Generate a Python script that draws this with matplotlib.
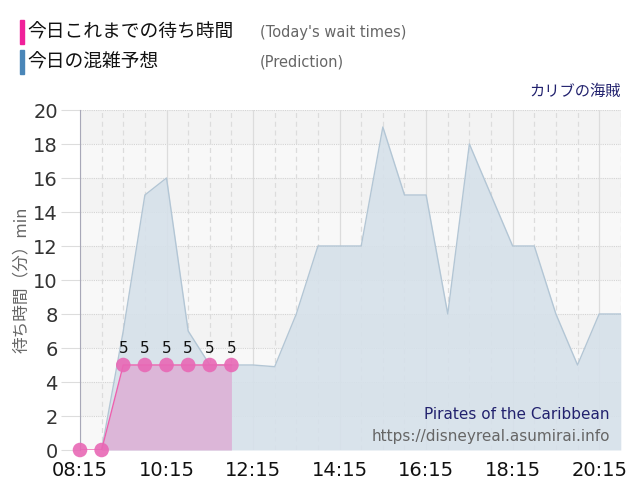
import numpy as np
import matplotlib
matplotlib.use('Agg')
import matplotlib.pyplot as plt

plt.rcParams['font.family'] = ['DejaVu Sans', 'Noto Sans CJK JP']

# prediction (30 min steps)
pred_times = ['08:45', '09:15', '09:45', '10:15', '10:45', '11:15', '11:45', '12:15',
              '12:45', '13:15', '13:45', '14:15', '14:45', '15:15', '15:45', '16:15',
              '16:45', '17:15', '17:45', '18:15', '18:45', '19:15', '19:45', '20:15', '20:45']
pred_vals = [0, 7, 15, 16, 7, 5, 5, 5,
             4.9, 8, 12, 12, 12, 19, 15, 15,
             8, 18, 15, 12, 12, 8, 5, 8, 8]

# today's actual wait times
act_times = ['08:15', '08:45', '09:15', '09:45', '10:15', '10:45', '11:15', '11:45']
act_vals = [0, 0, 5, 5, 5, 5, 5, 5]

tick_labels = ['08:15', '10:15', '12:15', '14:15', '16:15', '18:15', '20:15']


def to_h(s):
    h, m = s.split(':')
    return int(h) + int(m) / 60


px = np.array([to_h(t) for t in pred_times])
py = np.array(pred_vals)
ax_ = np.array([to_h(t) for t in act_times])
ay = np.array(act_vals)

fig = plt.figure(figsize=(6.4, 5), dpi=100)
ax = fig.add_axes([0.125, 0.10, 0.845, 0.68])

x0, x1 = to_h('08:15'), to_h('20:45')
ax.set_xlim(x0, x1)
ax.set_ylim(0, 20)

# background bands
for i, y in enumerate(range(0, 20, 2)):
    ax.axhspan(y, y + 2, color='#f3f3f3' if i % 2 else '#f8f8f8', zorder=0, lw=0)

# grid
for y in range(2, 21, 2):
    ax.axhline(y, color='#d4d4d4', lw=0.8, ls=(0, (1, 1)), zorder=1)
minor = np.arange(x0, x1 + 0.01, 0.5)
for x in minor:
    if abs((x - x0) % 2) < 1e-6:
        ax.axvline(x, color='#dcdcdc', lw=0.9, zorder=1)
    else:
        ax.axvline(x, color='#dcdcdc', lw=0.9, ls=(0, (4, 3)), zorder=1)

# prediction area
ax.fill_between(px, py, 0, color='#d6e1ea', alpha=0.9, lw=0, zorder=2)
ax.plot(px, py, color='#b3c6d5', lw=1, zorder=3)

# actual area
ax.fill_between(ax_, ay, 0, color='#dcb6d8', lw=0, zorder=4)
ax.plot(ax_, ay, color='#ee5fae', lw=1, zorder=5)
ax.scatter(ax_, ay, s=110, color='#e868b5', alpha=0.9, edgecolors='none', zorder=6, clip_on=False)
for x, y in zip(ax_, ay):
    if y > 0:
        ax.text(x, y + 0.55, str(y), ha='center', va='bottom', fontsize=11, color='#111111', zorder=7)

ax.set_xticks([to_h(t) for t in tick_labels])
ax.set_xticklabels(tick_labels, fontsize=14, color='#111111')
ax.set_yticks(range(0, 21, 2))
ax.set_yticklabels([str(v) for v in range(0, 21, 2)], fontsize=14, color='#333333')
ax.tick_params(axis='y', length=14, color='#dddddd', pad=2)
ax.tick_params(axis='x', length=0, pad=8)
for s in ['top', 'right', 'bottom']:
    ax.spines[s].set_visible(False)
ax.spines['left'].set_color('#a8a8b8')

ax.set_ylabel('待ち時間（分）min', fontsize=12, color='#666666', labelpad=2,
              family=['Noto Sans CJK JP', 'DejaVu Sans'])

# legend at top
cjk = ['Noto Sans CJK JP', 'DejaVu Sans']
fig.patches.append(plt.Rectangle((20 / 640, 1 - 44 / 500), 4 / 640, 24 / 500,
                                 transform=fig.transFigure, color='#f0209a', figure=fig))
fig.patches.append(plt.Rectangle((20 / 640, 1 - 74 / 500), 4 / 640, 24 / 500,
                                 transform=fig.transFigure, color='#4a86b8', figure=fig))
fig.text(27 / 640, 1 - 32 / 500, '今日これまでの待ち時間', fontsize=13.5, va='center',
         family=cjk, color='#111111')
fig.text(27 / 640, 1 - 62 / 500, '今日の混雑予想', fontsize=13.5, va='center',
         family=cjk, color='#111111')
fig.text(260 / 640, 1 - 32 / 500, "(Today's wait times)", fontsize=10.5, va='center', color='#666666')
fig.text(260 / 640, 1 - 62 / 500, '(Prediction)', fontsize=10.5, va='center', color='#666666')

fig.text(621 / 640, 1 - 91 / 500, 'カリブの海賊', fontsize=11, ha='right', va='center',
         family=cjk, color='#22226e')

ax.text(0.98, 0.105, 'Pirates of the Caribbean', transform=ax.transAxes, ha='right', va='center',
        fontsize=11, color='#22226e', zorder=8)
ax.text(0.98, 0.04, 'https://disneyreal.asumirai.info', transform=ax.transAxes, ha='right',
        va='center', fontsize=11, color='#666666', zorder=8)

fig.savefig('out.png', dpi=100)
